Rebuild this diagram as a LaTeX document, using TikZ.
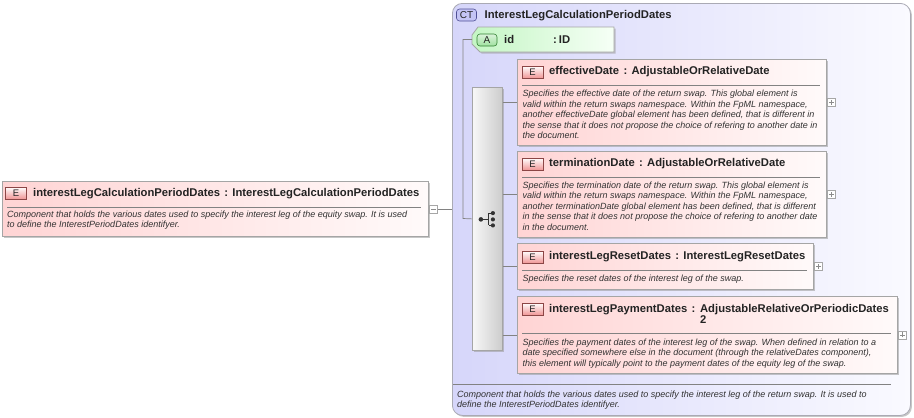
\documentclass[tikz,border=0pt]{standalone}
\usepackage{fontspec}
\setmainfont{Liberation Sans}
\usetikzlibrary{shadows}
\definecolor{elL}{RGB}{255,212,212}
\definecolor{elR}{RGB}{255,250,250}
\definecolor{elBorder}{RGB}{165,165,165}
\definecolor{ctL}{RGB}{214,214,250}
\definecolor{ctR}{RGB}{250,250,255}
\definecolor{ctBorder}{RGB}{170,170,180}
\definecolor{atL}{RGB}{196,246,196}
\definecolor{atR}{RGB}{246,255,246}
\definecolor{lineC}{RGB}{130,130,130}
\definecolor{txt}{RGB}{35,35,35}
\definecolor{dtxt}{RGB}{50,50,50}
\definecolor{badgeE}{RGB}{240,150,150}
\definecolor{badgeEb}{RGB}{140,70,70}
\definecolor{badgeCT}{RGB}{196,196,245}
\definecolor{badgeCTb}{RGB}{80,80,150}
\definecolor{badgeA}{RGB}{160,225,160}
\definecolor{badgeAb}{RGB}{50,130,50}
\newcommand\xttl{\fontsize{11.25}{11.4}\selectfont\bfseries}
\newcommand\xdsc{\fontsize{9}{10.5}\selectfont\itshape}
\tikzset{
  shad/.style={drop shadow={shadow xshift=1.5pt, shadow yshift=-1.5pt, fill=black!40, opacity=.55}},
  elem/.style={rectangle, draw=elBorder, line width=0.8pt, inner sep=0, anchor=north west,
    left color=elL, right color=elR, shad},
  ctbox/.style={rectangle, rounded corners=10pt, draw=ctBorder, line width=0.8pt, inner sep=0,
    anchor=north west, left color=ctL, right color=ctR, shad},
  seqbox/.style={rectangle, draw=elBorder, line width=0.8pt, inner sep=0, anchor=north west,
    left color=black!3, right color=black!20, shad},
  ebadge/.style={rectangle, draw=badgeEb, line width=0.6pt, top color=white, bottom color=badgeE,
    minimum width=21pt, minimum height=12pt, inner sep=0, font=\fontsize{9.5}{10}\selectfont, text=txt},
  ctbadge/.style={rectangle, rounded corners=3pt, draw=badgeCTb, line width=0.6pt, fill=badgeCT,
    minimum width=20pt, minimum height=12pt, inner sep=0, font=\fontsize{10}{10}\selectfont, text=txt},
  abadge/.style={rectangle, rounded corners=3pt, draw=badgeAb, line width=0.6pt, top color=white!60!badgeA, bottom color=badgeA,
    minimum width=20pt, minimum height=12pt, inner sep=0, font=\fontsize{10}{10}\selectfont, text=txt},
  ttl/.style={anchor=base west, inner sep=0, font=\xttl, text=txt},
  desc/.style={anchor=north west, inner sep=0, align=left, font=\xdsc, text=dtxt},
  hdr/.style={draw=lineC, line width=0.7pt},
  conn/.style={draw=lineC, line width=0.7pt},
  expander/.style={rectangle, draw=black!35, fill=white, line width=0.5pt, minimum size=8pt, inner sep=0, anchor=west},
  plusx/.style={expander, path picture={\draw[black!45, line width=0.6pt]
      ([xshift=-2.5pt]path picture bounding box.center) -- ([xshift=2.5pt]path picture bounding box.center)
      ([yshift=-2.5pt]path picture bounding box.center) -- ([yshift=2.5pt]path picture bounding box.center);}},
  minusx/.style={expander, path picture={\draw[black!45, line width=0.6pt]
      ([xshift=-2.5pt]path picture bounding box.center) -- ([xshift=2.5pt]path picture bounding box.center);}},
}
\begin{document}
\begin{tikzpicture}[x=1pt,y=-1pt]
\useasboundingbox (0,0) rectangle (914,418);
\fill[white] (0,0) rectangle (914,418);

% complex type container
\node[ctbox, minimum width=458pt, minimum height=412pt] (ct) at (452,3) {};
\node[ctbadge] (ctb) at (466.5,15) {CT};
\node[ttl] (ctt) at (484.5,18.3) {InterestLegCalculationPeriodDates};

% attribute
\draw[draw=elBorder, line width=0.8pt, left color=atL, right color=atR, shad]
  (478,27) -- (614,27) -- (614,52) -- (480,52) -- (472,44) -- (472,35) -- cycle;
\coordinate (attrtip) at (472,39.5);
\node[abadge] (ab) at (487,40) {A};
\node[ttl] (aname) at (504,43.5) {id};
\node[ttl] (atype) at (553,43.5) {:\hspace{2pt}ID};

% left element
\node[elem, minimum width=426pt, minimum height=55pt] (le) at (2,181) {};
\node[ebadge] (leb) at (16,193) {E};
\node[ttl] (let) at (33,196.5) {interestLegCalculationPeriodDates\hspace{4.3pt}:\hspace{4.3pt}InterestLegCalculationPeriodDates};
\draw[hdr] (7,207) -- (421,207);
\node[desc] (led) at (7,210) {\rule{0pt}{7pt}Component that holds the various dates used to specify the interest leg of the equity swap. It is used\\to define the InterestPeriodDates identifyer.};
\node[minusx] (lex) at ([xshift=0.5pt]le.east) {};
\draw[conn] (lex.east) -- (lex.east -| ct.west);

% sequence compositor
\node[seqbox, minimum width=30pt, minimum height=263pt] (seq) at (472,87) {};
\coordinate (bus) at (463,218.5);
\draw[conn] (attrtip) -| (bus) -- (seq.west);
\begin{scope}[shift={(seq.center)}]
  \draw[black!80, line width=1pt] (-6.5,0.5) -- (1.5,0.5) (1.5,-5.8) -- (1.5,6.5)
     (1.5,-5.8) -- (5.5,-5.8) (1.5,6.5) -- (5.5,6.5);
  \fill[black!80] (-6.5,0.5) circle (2.3pt) (5.5,-5.8) circle (2.1pt) (5.5,0.5) circle (2.1pt) (5.5,6.5) circle (2.1pt);
\end{scope}

% effectiveDate
\node[elem, minimum width=309pt, minimum height=86pt] (eff) at (517,59) {};
\node[ebadge] (effb) at (532.5,72) {E};
\node[ttl] (efft) at (549,74.5) {effectiveDate\hspace{4.3pt}:\hspace{4.3pt}AdjustableOrRelativeDate};
\draw[hdr] (522,85) -- (820,85);
\node[desc] (effd) at (522.5,89.5) {\rule{0pt}{7pt}Specifies the effective date of the return swap. This global element is\\valid within the return swaps namespace. Within the FpML namespace,\\another effectiveDate global element has been defined, that is different in\\the sense that it does not propose the choice of refering to another date in\\the document.};
\node[plusx] (effx) at ([xshift=0.5pt]eff.east) {};
\draw[conn] (eff.west -| seq.east) -- (eff.west);

% terminationDate
\node[elem, minimum width=309pt, minimum height=86pt] (term) at (517,151) {};
\node[ebadge] (termb) at (532.5,164) {E};
\node[ttl] (termt) at (549,166.5) {terminationDate\hspace{4.3pt}:\hspace{4.3pt}AdjustableOrRelativeDate};
\draw[hdr] (522,177) -- (820,177);
\node[desc] (termd) at (522.5,181) {\rule{0pt}{7pt}Specifies the termination date of the return swap. This global element is\\valid within the return swaps namespace. Within the FpML namespace,\\another terminationDate global element has been defined, that is different\\in the sense that it does not propose the choice of refering to another date\\in the document.};
\node[plusx] (termx) at ([xshift=0.5pt]term.east) {};
\draw[conn] (term.west -| seq.east) -- (term.west);

% interestLegResetDates
\node[elem, minimum width=296pt, minimum height=46pt] (reset) at (517,243) {};
\node[ebadge] (resetb) at (532.5,257) {E};
\node[ttl] (resett) at (549,259) {interestLegResetDates\hspace{4.3pt}:\hspace{4.3pt}InterestLegResetDates};
\draw[hdr] (522,270) -- (807,270);
\node[desc] (resetd) at (522.5,274) {\rule{0pt}{7pt}Specifies the reset dates of the interest leg of the swap.};
\node[plusx] (resetx) at ([xshift=0.5pt]reset.east) {};
\draw[conn] (reset.west -| seq.east) -- (reset.west);

% interestLegPaymentDates
\node[elem, minimum width=380pt, minimum height=77pt] (pay) at (517,296) {};
\node[ebadge] (payb) at (532.5,309) {E};
\node[ttl] (payt) at (549,312) {interestLegPaymentDates\hspace{4.3pt}:};
\node[anchor=north west, inner sep=0, align=left, font=\xttl, text=txt] (payty)
  at ([xshift=4.3pt,yshift=9pt]payt.base east) {\rule{0pt}{9pt}AdjustableRelativeOrPeriodicDates\\2};
\draw[hdr] (522,333) -- (891,333);
\node[desc] (payd) at (522.5,338) {\rule{0pt}{7pt}Specifies the payment dates of the interest leg of the swap. When defined in relation to a\\date specified somewhere else in the document (through the relativeDates component),\\this element will typically point to the payment dates of the equity leg of the swap.};
\node[plusx] (payx) at ([xshift=0.5pt]pay.east) {};
\draw[conn] (pay.west -| seq.east) -- (pay.west);

% footer of complex type
\draw[hdr] (453,384.5) -- (891,384.5);
\node[desc] (ctd) at (457,390) {\rule{0pt}{7pt}Component that holds the various dates used to specify the interest leg of the return swap. It is used to\\define the InterestPeriodDates identifyer.};
\end{tikzpicture}
\end{document}
